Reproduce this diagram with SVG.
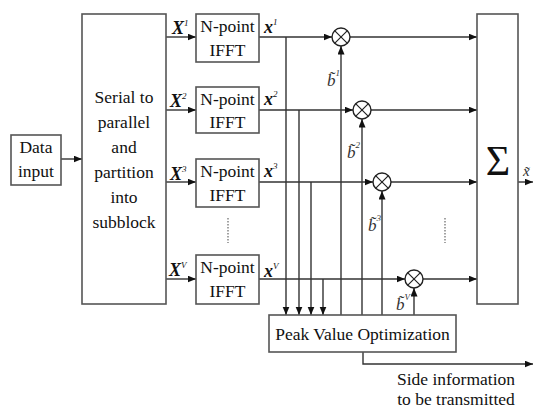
<svg xmlns="http://www.w3.org/2000/svg" width="533" height="408" viewBox="0 0 533 408">
<defs>
<style>
.box{fill:#fff;stroke:#555;stroke-width:1.6}
.ln{fill:none;stroke:#333;stroke-width:1.4}
.arr{marker-end:url(#ah)}
.dot{fill:none;stroke:#666;stroke-width:1.2;stroke-dasharray:1.5 1.5}
.t{font-family:"Liberation Serif","Times New Roman",serif;font-size:17.5px;fill:#111;text-anchor:middle}
.lbl{font-family:"Liberation Serif","Times New Roman",serif;font-size:18px;font-weight:bold;font-style:italic;fill:#111}
.bl{font-family:"Liberation Serif","Times New Roman",serif;font-size:17px;font-style:italic;fill:#333}
.sup{font-size:9px;font-weight:normal}
.mul{fill:#fff;stroke:#222;stroke-width:1.4}
</style>
<marker id="ah" markerUnits="userSpaceOnUse" markerWidth="9" markerHeight="8" refX="8.5" refY="3.5" orient="auto">
<path d="M0,0 L8.5,3.5 L0,7 z" fill="#111"/>
</marker>
<g id="mult-shape">
<circle cx="0" cy="0" r="9" class="mul"/>
<path d="M-6.4,-6.4 L6.4,6.4 M-6.4,6.4 L6.4,-6.4" stroke="#222" stroke-width="1.2"/>
</g>
</defs>
<rect width="533" height="408" fill="#fff"/>

<g id="connectors">
<path class="ln arr" d="M61,159 H82"/>
<path class="ln arr" d="M166,37 H196"/>
<path class="ln arr" d="M166,110 H196"/>
<path class="ln arr" d="M166,182 H196"/>
<path class="ln arr" d="M166,279 H196"/>
<path class="ln arr" d="M259,37 H332"/>
<path class="ln arr" d="M259,110 H353"/>
<path class="ln arr" d="M259,182 H373"/>
<path class="ln arr" d="M259,279 H405"/>
<path class="ln arr" d="M286,37 V315"/>
<path class="ln arr" d="M299,110 V315"/>
<path class="ln arr" d="M311,182 V315"/>
<path class="ln arr" d="M323,279 V315"/>
<path class="ln arr" d="M341,315 V46"/>
<path class="ln arr" d="M362,315 V119"/>
<path class="ln arr" d="M382,315 V191"/>
<path class="ln arr" d="M414,315 V288"/>
<path class="ln arr" d="M350,37 H477"/>
<path class="ln arr" d="M371,110 H477"/>
<path class="ln arr" d="M391,182 H477"/>
<path class="ln arr" d="M423,279 H477"/>
<path class="ln arr" d="M518,182 H533"/>
<path class="ln arr" d="M363,352 V364 H533"/>
<path class="dot" d="M228,218 V243"/>
<path class="dot" d="M445,218 V243"/>
</g>

<g id="data-input">
<rect class="box" x="11" y="135" width="50" height="50"/>
<text class="t" x="36" y="153">Data</text>
<text class="t" x="36" y="177">input</text>
</g>

<g id="serial">
<rect class="box" x="82" y="14" width="84" height="290"/>
<text class="t" x="124" y="103">Serial to</text>
<text class="t" x="124" y="128">parallel</text>
<text class="t" x="124" y="153">and</text>
<text class="t" x="124" y="178">partition</text>
<text class="t" x="124" y="203">into</text>
<text class="t" x="124" y="228">subblock</text>
</g>

<g id="ifft1">
<rect class="box" x="196" y="14" width="63" height="48"/>
<text class="t" x="227.5" y="32">N-point</text>
<text class="t" x="227.5" y="56">IFFT</text>
</g>
<g id="ifft2">
<rect class="box" x="196" y="87" width="63" height="46"/>
<text class="t" x="227.5" y="105">N-point</text>
<text class="t" x="227.5" y="128">IFFT</text>
</g>
<g id="ifft3">
<rect class="box" x="196" y="159" width="63" height="48"/>
<text class="t" x="227.5" y="177">N-point</text>
<text class="t" x="227.5" y="201">IFFT</text>
</g>
<g id="ifftV">
<rect class="box" x="196" y="255" width="63" height="49"/>
<text class="t" x="227.5" y="273">N-point</text>
<text class="t" x="227.5" y="297">IFFT</text>
</g>

<g id="labels-X">
<text class="lbl" x="172" y="34">X<tspan class="sup" dy="-8">1</tspan></text>
<text class="lbl" x="170" y="107">X<tspan class="sup" dy="-8">2</tspan></text>
<text class="lbl" x="170" y="180">X<tspan class="sup" dy="-8">3</tspan></text>
<text class="lbl" x="169" y="276">X<tspan class="sup" dy="-8">V</tspan></text>
<text class="lbl" x="264" y="33">x<tspan class="sup" dy="-8">1</tspan></text>
<text class="lbl" x="264" y="105">x<tspan class="sup" dy="-8">2</tspan></text>
<text class="lbl" x="264" y="177">x<tspan class="sup" dy="-8">3</tspan></text>
<text class="lbl" x="264" y="277">x<tspan class="sup" dy="-8">V</tspan></text>
</g>

<g id="mult1"><use href="#mult-shape" x="341" y="37"/></g>
<g id="mult2"><use href="#mult-shape" x="362" y="110"/></g>
<g id="mult3"><use href="#mult-shape" x="382" y="182"/></g>
<g id="multV"><use href="#mult-shape" x="414" y="279"/></g>

<g id="labels-b">
<text class="bl" x="327" y="86">b̃<tspan class="sup" dy="-10">1</tspan></text>
<text class="bl" x="347" y="158">b̃<tspan class="sup" dy="-10">2</tspan></text>
<text class="bl" x="368" y="231">b̃<tspan class="sup" dy="-10">3</tspan></text>
<text class="bl" x="396" y="310">b̃<tspan class="sup" dy="-10">V</tspan></text>
</g>

<g id="sum">
<rect class="box" x="477" y="14" width="41" height="290"/>
<text class="t" x="498" y="175" style="font-size:42px">Σ</text>
</g>
<g id="out-label">
<text class="bl" x="523" y="176" style="font-size:15px">x̃</text>
</g>

<g id="pvo">
<rect class="box" x="269" y="315" width="187" height="37"/>
<text class="t" x="362.5" y="340">Peak Value Optimization</text>
</g>

<g id="side-info">
<text class="t" x="456" y="385">Side information</text>
<text class="t" x="456" y="405">to be transmitted</text>
</g>
</svg>
